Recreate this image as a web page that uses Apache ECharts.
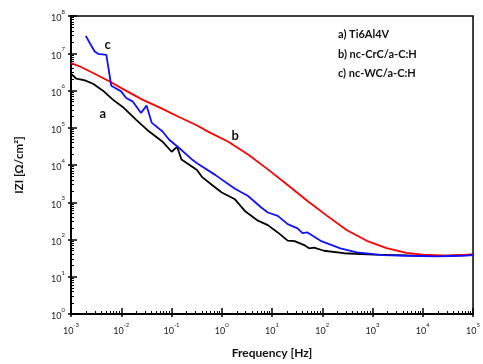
<!DOCTYPE html>
<html><head><meta charset="utf-8">
<script src="https://cdn.jsdelivr.net/npm/echarts@6/dist/echarts.min.js"></script>
<style>html,body{margin:0;padding:0;background:#fff}#c{width:483px;height:364px}</style>
</head><body><div id="c"></div>
<script>
// a) Ti6Al4V
const freqA=[0.001,0.00128,0.00189,0.00275,0.00433,0.00681,0.0107,0.0196,0.0359,0.0656,0.1005,0.129,0.158,0.238,0.321,0.402,0.632,1.0,1.83,2.88,5.25,8.26,13.0,20.5,28.1,43.7,54.7,68.7,108,267,1042,4710,18370,100000];
const zA=[2.81e6,2.07e6,1.86e6,1.52e6,9.89e5,5.68e5,3.62e5,1.66e5,7.91e4,4.28e4,2.27e4,3.08e4,1.41e4,9750,7310,4810,2940,1820,1200,585,320,243,155,93.5,90.6,70.8,57.8,60.7,49.9,42.8,39.4,37.6,36.0,39.4];
// b) nc-CrC/a-C:H
const freqB=[0.001,0.00151,0.00204,0.00275,0.00589,0.0126,0.0263,0.0631,0.141,0.316,0.545,1.35,3.34,8.26,20.5,50.7,125,310,769,1905,4710,10000,31623,100000];
const zB=[5.43e6,4.41e6,3.60e6,2.94e6,1.75e6,9.77e5,5.68e5,3.31e5,1.95e5,1.17e5,7.76e4,4.20e4,1.92e4,7620,2900,1080,431,178,92.3,58.5,44.0,39.5,36.7,39.8];
// c) nc-WC/a-C:H
const freqC=[0.00197,0.00237,0.00296,0.00344,0.00505,0.00632,0.00995,0.0125,0.0168,0.0247,0.0318,0.0406,0.0656,0.0889,0.140,0.255,0.346,0.738,1.83,3.34,6.10,8.26,13.0,20.5,32.2,40.4,50.7,92.7,229,489,1640,4710,18370,61500,100000];
const zC=[2.92e7,1.86e7,1.11e7,9.64e6,9.06e6,1.34e6,9.46e5,6.30e5,5.12e5,2.50e5,3.93e5,1.35e5,8.05e4,4.83e4,2.90e4,1.41e4,1.04e4,5430,2300,1470,721,531,431,258,198,148,155,92.3,57.8,45.2,38.3,36.6,35.3,36.6,38.3];
// tick labels (decade exponents)
const xExponents=[-3,-2,-1,0,1,2,3,4,5];
const yExponents=[0,1,2,3,4,5,6,7,8];
const legendLines=['a) Ti6Al4V','b) nc-CrC/a-C:H','c) nc-WC/a-C:H'];
const curveTags=['a','b','c'];
const tagPos=[[0.00427,2.4e5],[1.85,6.2e4],[0.00535,1.68e7]];

const xMajor=xExponents.map(e=>Math.pow(10,e));
const yMajor=yExponents.map(e=>Math.pow(10,e));
function minors(exps){const out=[];for(let i=0;i<exps.length-1;i++){for(let d=2;d<=9;d++)out.push(d*Math.pow(10,exps[i]));}return out;}
const xMinor=minors(xExponents), yMinor=minors(yExponents);
const FONT='Lato';
const rich={b:{fontSize:9,color:'#222',fontFamily:FONT,lineHeight:14,verticalAlign:'bottom'},e:{fontSize:6,color:'#222',fontFamily:FONT,verticalAlign:'top',lineHeight:14,padding:[0,0,4,0]}};
const fmt=v=>'{b|10}{e|'+Math.round(Math.log10(v))+'}';

function axisSet(dim, major, minor, mn, mx, extra){
  const base={type:'log',logBase:10,min:mn,max:mx,splitLine:{show:false},
    axisLine:{show:false},axisLabel:{show:false},axisTick:{show:false},minorTick:{show:false}};
  return [
    Object.assign({},base,{axisLine:{show:true,onZero:false,lineStyle:{color:'#000',width:2}},
      axisTick:{show:true,inside:false,length:3,customValues:major,lineStyle:{color:'#000',width:1.5}},
      axisLabel:{show:true,customValues:major,formatter:fmt,rich:rich,margin:dim==='x'?8:6}},extra),
    Object.assign({},base,{axisTick:{show:true,inside:true,length:6,customValues:major,lineStyle:{color:'#000',width:1.5}}}),
    Object.assign({},base,{axisTick:{show:true,inside:true,length:3,customValues:minor,lineStyle:{color:'#000',width:1}}})
  ];
}
const xAxes=axisSet('x',xMajor,xMinor,1e-3,1e5,{name:'Frequency [Hz]',nameLocation:'middle',nameGap:33,
  nameTextStyle:{fontFamily:FONT,fontWeight:'bold',fontSize:12,color:'#111'}});
const yAxes=axisSet('y',yMajor,yMinor,1,1e8,{name:'IZI [Ω/cm²]',nameLocation:'middle',nameGap:46,
  nameTextStyle:{fontFamily:FONT,fontWeight:'bold',fontSize:11.5,color:'#111'}});
xAxes.forEach(a=>a.position='bottom');
yAxes.forEach(a=>a.position='left');

function mk(fr,z,color,i){
  return {type:'line',xAxisIndex:0,yAxisIndex:0,data:fr.map((f,k)=>[f,z[k]]),showSymbol:false,symbol:'none',
    lineStyle:{color:color,width:1.8},itemStyle:{color:color},animation:false,z:3+i,
    markPoint:{symbol:'circle',symbolSize:0,animation:false,
      label:{show:true,formatter:curveTags[i],fontFamily:FONT,fontWeight:'bold',fontSize:13,color:'#111',position:'inside'},
      data:[{coord:tagPos[i]}]}};
}
const chart=echarts.init(document.getElementById('c'),null,{renderer:'canvas'});
chart.setOption({
  backgroundColor:'#fff',animation:false,
  grid:{left:71,right:6,top:16,bottom:49,show:true,borderColor:'#000',borderWidth:1.5,backgroundColor:'transparent'},
  xAxis:xAxes,yAxis:yAxes,
  series:[mk(freqA,zA,'#000000',0),mk(freqB,zB,'#ff0000',1),mk(freqC,zC,'#1010ff',2)],
  graphic:legendLines.map((t,i)=>({type:'text',left:338,top:29+i*19.5,
    style:{text:t,fontFamily:FONT,fontWeight:'bold',fontSize:11,fill:'#111'}}))
});
</script></body></html>
